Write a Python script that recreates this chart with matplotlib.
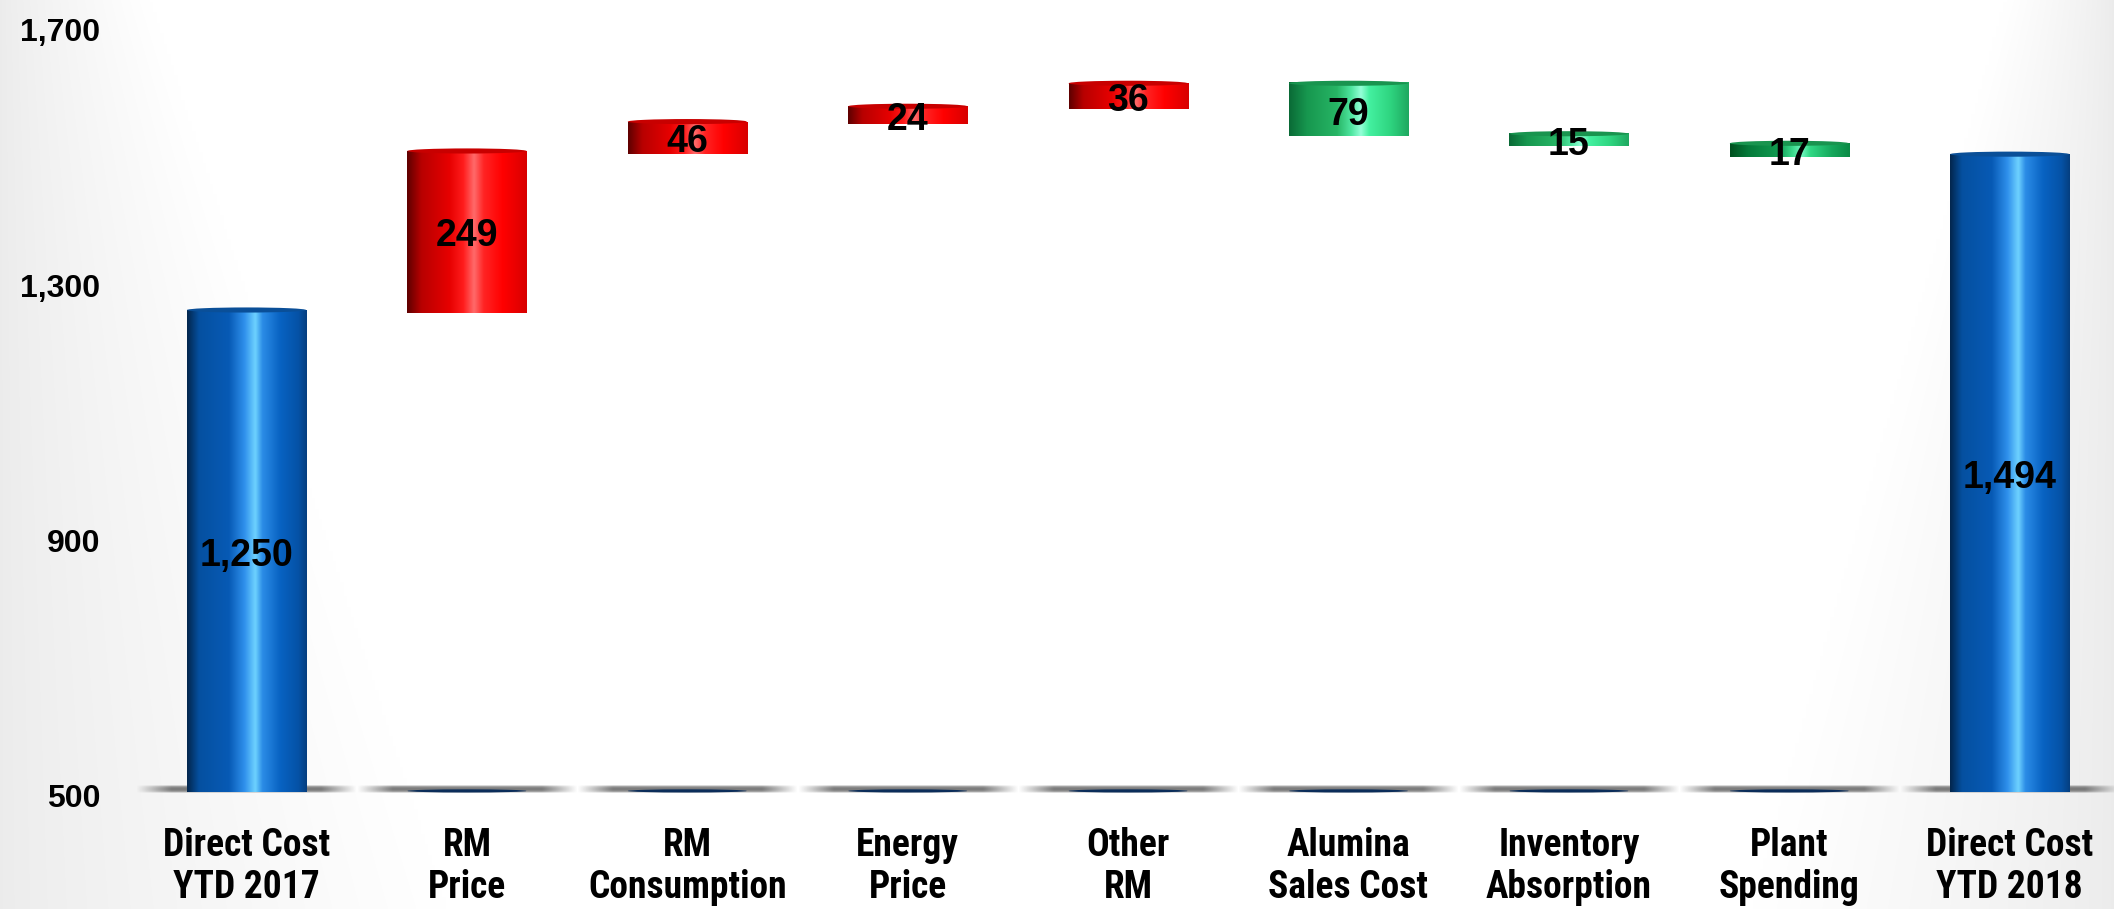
import numpy as np
import matplotlib
matplotlib.use("Agg")
import matplotlib.pyplot as plt
from matplotlib import font_manager
from matplotlib.colors import LinearSegmentedColormap
from matplotlib.patches import PathPatch, Ellipse
from matplotlib.path import Path
from matplotlib.transforms import ScaledTranslation

# waterfall data: first and last are totals, the rest are steps
categories = ["Direct Cost\nYTD 2017", "RM\nPrice", "RM\nConsumption", "Energy\nPrice",
              "Other\nRM", "Alumina\nSales Cost", "Inventory\nAbsorption", "Plant\nSpending",
              "Direct Cost\nYTD 2018"]
values = [1250, 249, 46, 24, 36, -79, -15, -17, 1494]
is_total = [True, False, False, False, False, False, False, False, True]
y_ticks = [500, 900, 1300, 1700]

y_min, y_max = 500, 1700

# fonts: prefer a narrow bold face for the category names
num_font = "Liberation Sans"
prefer = ["Liberation Sans Narrow", "Roboto Condensed", "Open Sans Condensed", "Open Sans",
          "Noto Sans", "Roboto", "DejaVu Sans"]
condensed = [f for f in font_manager.fontManager.ttflist
             if f.stretch in ("condensed", "semi-condensed", "extra-condensed")
             and f.weight in (600, 700, "bold", "semibold")]
condensed.sort(key=lambda f: prefer.index(f.name) if f.name in prefer else len(prefer))
if condensed and condensed[0].name != "DejaVu Sans":
    cat_prop = font_manager.FontProperties(fname=condensed[0].fname, size=27)
else:
    cat_prop = font_manager.FontProperties(family="Liberation Sans", weight="bold", size=24)

# cylinder shading (left -> right)
blue_cm = LinearSegmentedColormap.from_list("blue", [
    (0.00, "#03264d"), (0.10, "#0550a0"), (0.35, "#075ab5"), (0.48, "#2f90ec"),
    (0.57, "#6ed2ff"), (0.63, "#2b8ce6"), (0.78, "#0862c2"), (0.93, "#0552a6"), (1.00, "#063f80")])
red_cm = LinearSegmentedColormap.from_list("red", [
    (0.00, "#5e0000"), (0.12, "#b80000"), (0.35, "#e60000"), (0.47, "#ff1c1c"),
    (0.56, "#ff6a6a"), (0.64, "#ff2424"), (0.80, "#ff0000"), (1.00, "#d80000")])
green_cm = LinearSegmentedColormap.from_list("green", [
    (0.00, "#0a6a36"), (0.15, "#17974f"), (0.40, "#27b565"), (0.52, "#4fe6a0"),
    (0.60, "#95ffd8"), (0.67, "#44f0a0"), (0.85, "#2ed47f"), (1.00, "#1fa860")])
dkgreen_cm = LinearSegmentedColormap.from_list("dkgreen", [
    (0.00, "#00501f"), (0.15, "#057a3a"), (0.40, "#109a50"), (0.52, "#3ad88a"),
    (0.60, "#70f5bf"), (0.67, "#30d884"), (0.85, "#16a85c"), (1.00, "#0a8a45")])

W, H = 2114, 909
fig = plt.figure(figsize=(W / 100, H / 100), dpi=100)

# soft grey vignette behind the chart
bg = fig.add_axes([0, 0, 1, 1], zorder=-10)
xx, yy = np.meshgrid(np.linspace(0, 1, 600), np.linspace(0, 1, 260))
wl = 0.07 + 0.14 * yy
wr = 0.05 + 0.12 * yy
fade = np.minimum(np.clip(xx / wl, 0, 1), np.clip((1 - xx) / wr, 0, 1))
fade = fade ** 0.8
shade = 0.925 + 0.075 * fade
bg.imshow(np.dstack([shade, shade, shade]), extent=[0, 1, 1, 0], aspect="auto",
          interpolation="bilinear")
bg.set_xlim(0, 1)
bg.set_ylim(1, 0)
bg.axis("off")

ax = fig.add_axes([136.3 / W, (H - 789) / H, 1983.6 / W, (789 - 22.6) / H])
ax.patch.set_alpha(0)
ax.set_xlim(-0.5, len(categories) - 0.5)
ax.set_ylim(y_min, y_max)

bw = 0.54
eh = 8.0   # ellipse height of the cylinder caps, data units
grad = np.linspace(0, 1, 256).reshape(1, -1)

# grey floor shadow under every category
prof_x = np.linspace(0, 1, 200)
edge = np.clip(np.minimum(prof_x, 1 - prof_x) / 0.16, 0, 1)
prof_y = np.linspace(-1, 1, 20)
core = np.clip(1 - prof_y ** 2, 0, 1) ** 0.6
floor = np.zeros((20, 200, 4))
floor[..., :3] = 0.42
floor[..., 3] = 0.9 * core[:, None] * edge[None, :]
for i in range(len(categories)):
    ax.imshow(floor, extent=[i - 0.5, i + 0.5, y_min - 6, y_min + 6], aspect="auto",
              interpolation="bilinear", zorder=1, clip_on=False)


def cylinder(xc, y0, y1, cmap, cap_color):
    x0, x1 = xc - bw / 2, xc + bw / 2
    t = np.linspace(0, np.pi, 40)
    arc_x = xc + np.cos(t) * bw / 2
    arc_y = y0 - np.sin(t) * eh / 2
    verts = [(x0, y1), (x1, y1)] + list(zip(arc_x, arc_y)) + [(x0, y1)]
    codes = [Path.MOVETO] + [Path.LINETO] * (len(verts) - 2) + [Path.CLOSEPOLY]
    clip = PathPatch(Path(verts, codes), transform=ax.transData, facecolor="none",
                     edgecolor="none")
    ax.add_patch(clip)
    im = ax.imshow(grad, cmap=cmap, extent=[x0, x1, y0 - eh / 2, y1], aspect="auto",
                   interpolation="bilinear", zorder=3, clip_on=False)
    im.set_clip_path(clip)
    ax.add_patch(Ellipse((xc, y1), bw, eh, facecolor=cap_color, edgecolor="none",
                         zorder=4, clip_on=False))


label_shift = ScaledTranslation(0, -6 / 100, fig.dpi_scale_trans)
level = 0
for i, v in enumerate(values):
    if is_total[i]:
        level = v
        lo, hi = y_min, v
        cylinder(i, lo, hi, blue_cm, "#0a4f98")
    else:
        lo, hi = min(level, level + v), max(level, level + v)
        level = level + v
        # flat base disk left by the hidden offset series
        ax.add_patch(Ellipse((i, y_min - 3), bw, 5, facecolor="#0b2d5a", edgecolor="none",
                             zorder=2, clip_on=False))
        if v > 0:
            cylinder(i, lo, hi, red_cm, "#c80000")
        else:
            cm = dkgreen_cm if i == 7 else green_cm
            cylinder(i, lo, hi, cm, "#19944f")
    ax.text(i, (lo + hi) / 2, f"{abs(v):,}", ha="center", va="center", fontsize=27,
            fontweight="bold", family=num_font, color="black", zorder=6,
            transform=ax.transData + label_shift)

for s in ax.spines.values():
    s.set_visible(False)
ax.set_yticks(y_ticks)
ax.set_yticklabels([f"{t:,}" for t in y_ticks], fontsize=23, fontweight="bold",
                   family=num_font)
ax.set_xticks(range(len(categories)))
ax.set_xticklabels(categories, fontproperties=cat_prop, linespacing=1.2)
ax.tick_params(axis="y", length=0, pad=26)
ax.tick_params(axis="x", length=0, pad=27)
for lab in ax.get_yticklabels():
    lab.set_transform(lab.get_transform() + ScaledTranslation(0, -5 / 72, fig.dpi_scale_trans))

fig.savefig("out.png", dpi=100)
